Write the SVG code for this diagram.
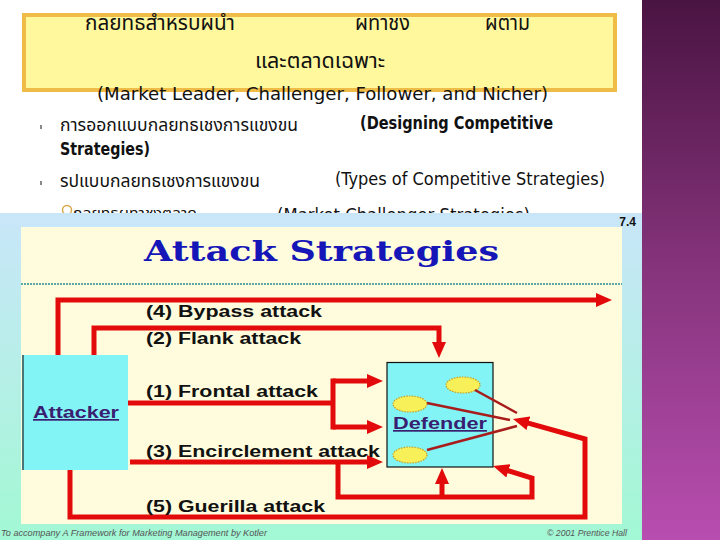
<svg xmlns="http://www.w3.org/2000/svg" width="720" height="540" viewBox="0 0 720 540">
<defs>
<linearGradient id="purple" x1="0" y1="0" x2="0" y2="1">
<stop offset="0" stop-color="#4a1442"/>
<stop offset="0.5" stop-color="#86347c"/>
<stop offset="1" stop-color="#b84eb0"/>
</linearGradient>
<linearGradient id="frame" x1="0" y1="0" x2="0" y2="1">
<stop offset="0" stop-color="#c9e6f9"/>
<stop offset="1" stop-color="#a2f8d4"/>
</linearGradient>
<marker id="ah" markerUnits="userSpaceOnUse" markerWidth="16" markerHeight="14" viewBox="0 0 16 14" refX="2" refY="7" orient="auto">
<path d="M0,0 L16,7 L0,14 z" fill="#e20a0a"/>
</marker>
<style>
.thai{font-family:"Noto Sans Thai","Noto Sans","DejaVu Sans Condensed",sans-serif;fill:#111}
.en{font-family:"DejaVu Sans Condensed","DejaVu Sans",sans-serif;fill:#111}
.lbl{font-family:"Liberation Sans",Arial,sans-serif;font-weight:bold;font-size:16px;fill:#111}
.red{fill:none;stroke:#e20a0a;stroke-width:5;stroke-linejoin:miter}
.thin{fill:none;stroke:#a81c1c;stroke-width:2.5}
.sun{fill:#f8f058;stroke:#c8a020;stroke-width:1.2;stroke-dasharray:1.5 1.2}
.node{font-family:"Liberation Sans",Arial,sans-serif;font-weight:bold;font-size:17px;fill:#3a1e70;text-decoration:underline}
.foot{font-family:"Liberation Sans",Arial,sans-serif;font-size:8.5px;fill:#555;font-style:italic}
</style>
</defs>
<rect x="0" y="0" width="720" height="540" fill="#ffffff"/>
<rect x="642" y="0" width="78" height="540" fill="url(#purple)"/>

<g id="title">
<rect x="24" y="15" width="591" height="75" fill="#fff89c" stroke="#f0bc48" stroke-width="4"/>
<text class="thai" x="85" y="30" font-size="21" textLength="150" lengthAdjust="spacingAndGlyphs">กลยทธสำหรบผนำ</text>
<text class="thai" x="355" y="30" font-size="21" textLength="55" lengthAdjust="spacingAndGlyphs">ผทาชง</text>
<text class="thai" x="485" y="30" font-size="21" textLength="45" lengthAdjust="spacingAndGlyphs">ผตาม</text>
<text class="thai" x="255" y="68" font-size="21" textLength="130" lengthAdjust="spacingAndGlyphs">และตลาดเฉพาะ</text>
<text class="en" x="97" y="100" font-size="17" textLength="451" lengthAdjust="spacingAndGlyphs">(Market Leader, Challenger, Follower, and Nicher)</text>
</g>

<g id="bullets">
<rect x="40" y="125" width="2" height="4" fill="#888"/>
<rect x="40" y="181" width="2" height="4" fill="#888"/>
<text class="thai" x="60" y="131" font-size="17" textLength="238" lengthAdjust="spacingAndGlyphs">การออกแบบกลยทธเชงการแขงขน</text>
<text class="en" x="360" y="129" font-size="17" font-weight="bold" textLength="193" lengthAdjust="spacingAndGlyphs">(Designing Competitive</text>
<text class="en" x="60" y="155" font-size="17" font-weight="bold" textLength="90" lengthAdjust="spacingAndGlyphs">Strategies)</text>
<text class="thai" x="60" y="187" font-size="17" textLength="200" lengthAdjust="spacingAndGlyphs">รปแบบกลยทธเชงการแขงขน</text>
<text class="en" x="335" y="185" font-size="17" textLength="270" lengthAdjust="spacingAndGlyphs">(Types of Competitive Strategies)</text>
<circle cx="67" cy="210" r="4.5" fill="none" stroke="#d8a848" stroke-width="1.5"/>
<text class="thai" x="73" y="218" font-size="14" textLength="124" lengthAdjust="spacingAndGlyphs">กลยทธผทาชงตลาด</text>
<text class="en" x="277" y="221" font-size="17" textLength="253" lengthAdjust="spacingAndGlyphs">(Market Challenger Strategies)</text>
</g>

<g id="figure">
<rect x="0" y="213" width="642" height="327" fill="url(#frame)"/>
<rect x="21" y="227" width="601" height="297" fill="#fefcdc"/>
<text x="636" y="226" text-anchor="end" font-family="Liberation Sans,Arial,sans-serif" font-weight="bold" font-size="12" fill="#111">7.4</text>
<text x="144" y="261" font-family="DejaVu Serif,serif" font-weight="bold" font-size="27" fill="#1616b8" textLength="355" lengthAdjust="spacingAndGlyphs">Attack Strategies</text>
<line x1="21" y1="284" x2="622" y2="284" stroke="#2a8a92" stroke-width="1.5" stroke-dasharray="2 1"/>
<text class="foot" x="1" y="536" textLength="266" lengthAdjust="spacingAndGlyphs">To accompany A Framework for Marketing Management by Kotler</text>
<text class="foot" x="547" y="536" textLength="80" lengthAdjust="spacingAndGlyphs">© 2001 Prentice Hall</text>
</g>

<g id="connectors">
<path class="red" d="M58,356 V300 H598" marker-end="url(#ah)"/>
<path class="red" d="M94,356 V328 H439 V344" marker-end="url(#ah)"/>
<path class="red" d="M128,403 H333"/>
<path class="red" d="M333,378.5 V429.5"/>
<path class="red" d="M333,381 H369" marker-end="url(#ah)"/>
<path class="red" d="M333,427 H369" marker-end="url(#ah)"/>
<path class="red" d="M130,462 H369" marker-end="url(#ah)"/>
<path class="red" d="M338,462 V497 H532 V478 L506.5,470.2" marker-end="url(#ah)"/>
<path class="red" d="M442,497 V482" marker-end="url(#ah)"/>
<path class="red" d="M70,470 V517 H585 V439 L526.5,422.7" marker-end="url(#ah)"/>
<text class="lbl" x="146" y="317" textLength="176" lengthAdjust="spacingAndGlyphs">(4) Bypass attack</text>
<text class="lbl" x="146" y="344" textLength="155" lengthAdjust="spacingAndGlyphs">(2) Flank attack</text>
<text class="lbl" x="146" y="397" textLength="172" lengthAdjust="spacingAndGlyphs">(1) Frontal attack</text>
<text class="lbl" x="146" y="457" textLength="234" lengthAdjust="spacingAndGlyphs">(3) Encirclement attack</text>
<text class="lbl" x="146" y="512" textLength="179" lengthAdjust="spacingAndGlyphs">(5) Guerilla attack</text>
</g>

<g id="attacker">
<rect x="22" y="355" width="106" height="115" fill="#82f4f6"/>
<line x1="23" y1="355" x2="23" y2="470" stroke="#222" stroke-width="1.2"/>
<text class="node" x="33" y="418" textLength="86" lengthAdjust="spacingAndGlyphs">Attacker</text>
</g>

<g id="defender">
<rect x="387" y="362.5" width="106" height="104.5" fill="#82f4f6" stroke="#111" stroke-width="1.2"/>
<text class="node" x="393" y="429" textLength="94" lengthAdjust="spacingAndGlyphs">Defender</text>
<ellipse class="sun" cx="463" cy="385" rx="17" ry="8"/>
<ellipse class="sun" cx="410" cy="404" rx="17" ry="8"/>
<ellipse class="sun" cx="410" cy="455" rx="17" ry="8"/>
<line class="thin" x1="475" y1="390" x2="517" y2="413"/>
<line class="thin" x1="427" y1="403" x2="510" y2="420"/>
<line class="thin" x1="427" y1="450" x2="517" y2="426"/>
</g>
</svg>
